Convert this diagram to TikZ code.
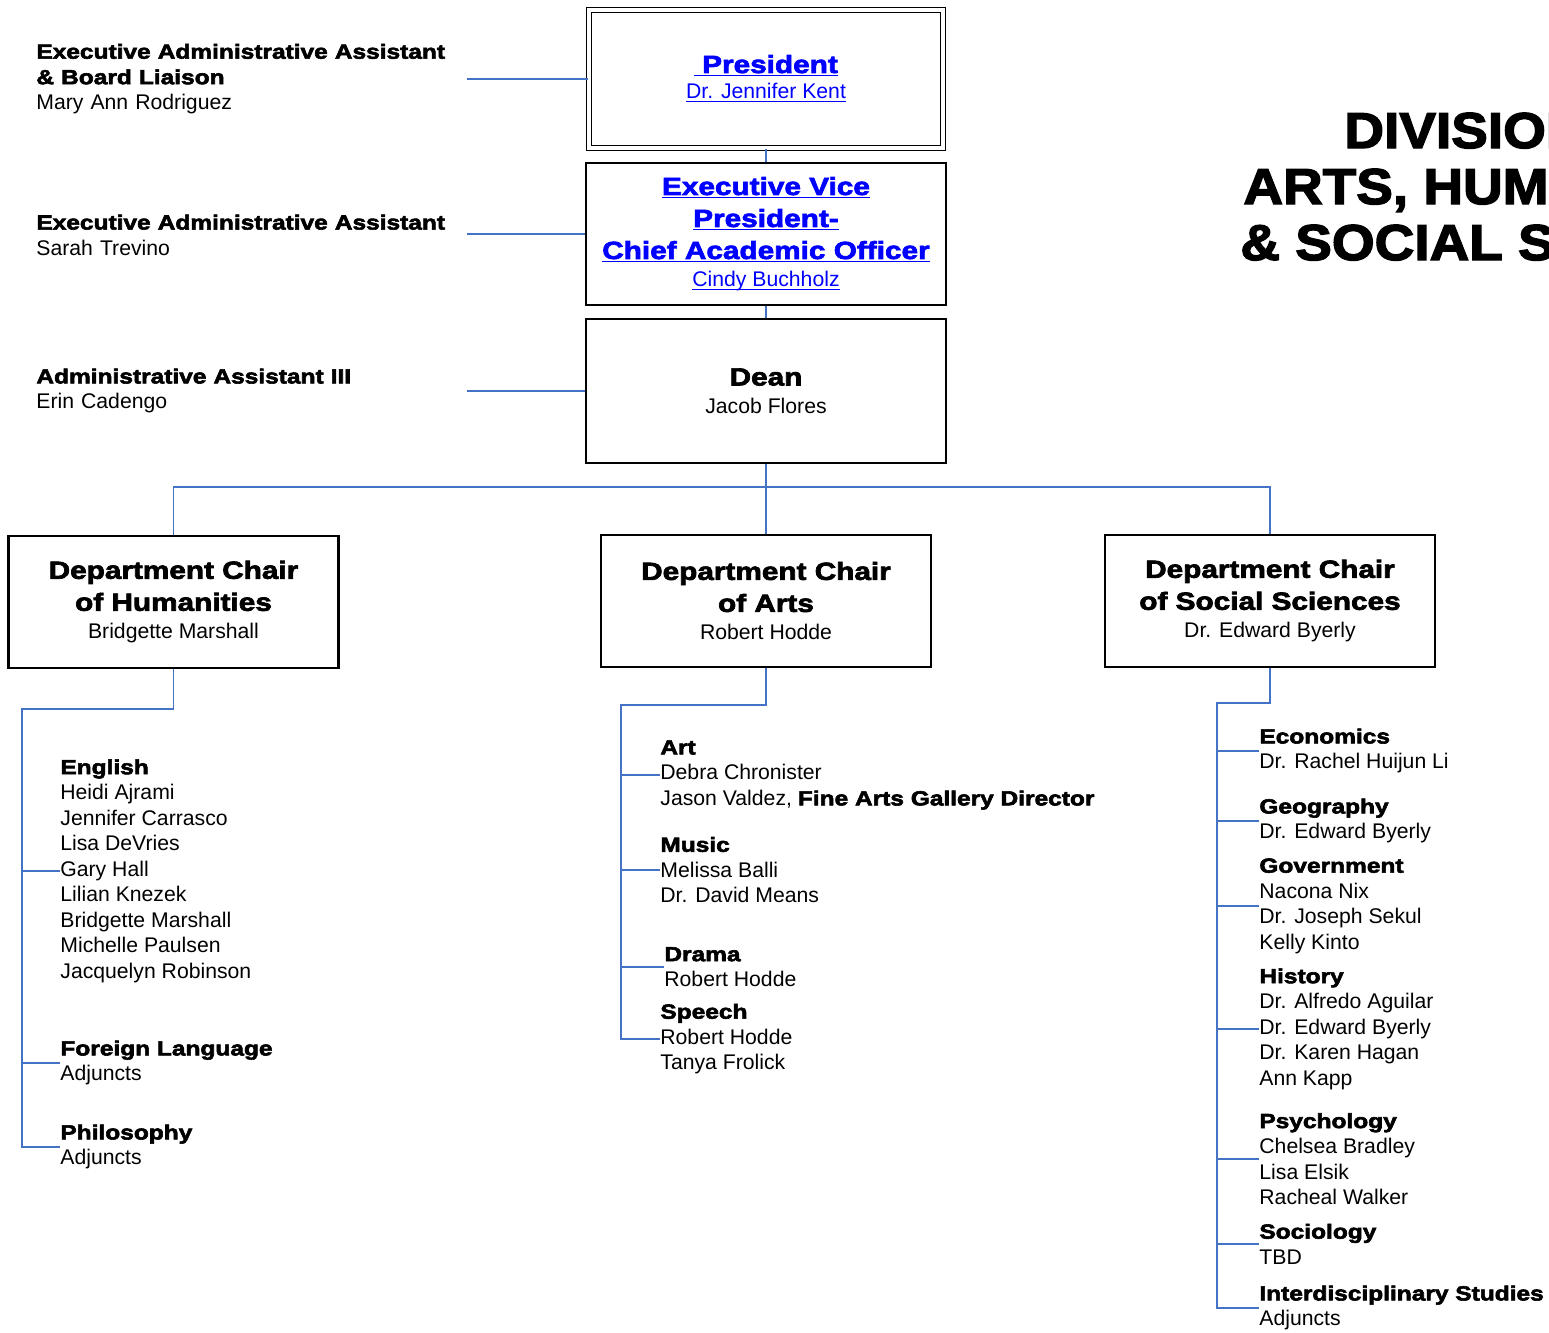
\documentclass[tikz,border=0pt]{standalone}
\usepackage{fontspec}
\setmainfont{Liberation Sans}
\newfontfamily\blk[FakeStretch=1.2,FakeBold=2.8]{Liberation Sans Bold}
\newfontfamily\blkt[FakeStretch=1.09,FakeBold=2.8]{Liberation Sans Bold}
\definecolor{linkblue}{RGB}{0,0,255}
\definecolor{lineblue}{RGB}{68,114,196}
\newcommand{\nm}{\normalfont\fontsize{10.6}{12.75}\selectfont}
\newcommand{\hdsm}{\blk\fontsize{10.2}{12.75}\selectfont}
\newcommand{\hdbig}{\blk\fontsize{12.4}{16}\selectfont}
\newcommand{\ttl}{\blkt\fontsize{25.2}{28}\selectfont}
\newcommand{\ulk}[1]{\setbox0=\hbox{#1}\dp0=0pt\underline{\box0}}
\begin{document}
\begin{tikzpicture}[x=0.5pt,y=-0.5pt,
	link/.style={draw=lineblue,line width=0.8pt},
	box/.style={draw,line width=1.1pt,inner sep=0pt,align=center,font=\hdbig,
		minimum width=180pt,minimum height=72pt},
	chairbox/.style={box,minimum width=165pt,minimum height=66pt},
	staff/.style={anchor=west,inner sep=0pt,align=left,text width=215pt,font=\nm},
	grp/.style={anchor=west,inner sep=0pt,align=left,font=\nm},
	title/.style={anchor=base west,inner sep=0pt,font=\ttl}]
	\useasboundingbox (0,0) rectangle (1549,1333);
	\clip (0,0) rectangle (1549,1333);
	% title, cut off at the right edge
	\node[title] (title1) at (1344,148) {DIVISION OF};
	\node[title] (title2) at (1243,204) {ARTS, HUMANITIES};
	\node[title] (title3) at (1240,260) {\& SOCIAL SCIENCES};
	% main column
	\node[box,double,double distance=1.6pt,line width=0.9pt,minimum width=177pt,
		minimum height=69pt,text=linkblue] (pres) at (766,79)
		{\ulk{\hspace{4pt}President}\\[-3pt]\ulk{\nm Dr. Jennifer Kent}};
	\node[box,minimum height=71pt,text=linkblue] (evp) at (766,234)
		{\ulk{Executive Vice}\\\ulk{President-}\\\ulk{Chief Academic Officer}\\[-2pt]\ulk{\nm Cindy Buchholz}};
	\node[box] (dean) at (766,391) {Dean\\[-2pt]{\nm Jacob Flores}};
	% assistants
	\node[staff] (asst1) at (36,79) {{\hdsm Executive Administrative Assistant}\\{\hdsm\& Board Liaison}\\Mary Ann Rodriguez};
	\node[staff] (asst2) at (36,235) {{\hdsm Executive Administrative Assistant}\\Sarah Trevino};
	\node[staff] (asst3) at (36,391) {{\hdsm Administrative Assistant III}\\Erin Cadengo};
	% department chairs
	\node[chairbox] (hum) at (173.5,602) {Department Chair\\of Humanities\\[-2pt]{\nm Bridgette Marshall}};
	\node[chairbox] (arts) at (766,601) {Department Chair\\of Arts\\[-2pt]{\nm Robert Hodde}};
	\node[chairbox] (soc) at (1270,601) {Department Chair\\of Social Sciences\\[-2pt]{\nm Dr. Edward Byerly}};
	% humanities
	\node[grp] (eng) at (60,871) {{\hdsm English}\\Heidi Ajrami\\Jennifer Carrasco\\Lisa DeVries\\Gary Hall\\Lilian Knezek\\Bridgette Marshall\\Michelle Paulsen\\Jacquelyn Robinson};
	\node[grp] (flang) at (60,1063) {{\hdsm Foreign Language}\\Adjuncts};
	\node[grp] (phil) at (60,1147) {{\hdsm Philosophy}\\Adjuncts};
	% arts
	\node[grp] (art) at (660,775) {{\hdsm Art}\\Debra Chronister\\Jason Valdez, {\hdsm Fine Arts Gallery Director}};
	\node[grp] (music) at (660,870) {{\hdsm Music}\\Melissa Balli\\Dr. David Means};
	\node[grp] (drama) at (664,967) {{\hdsm Drama}\\Robert Hodde};
	\node[grp] (speech) at (660,1039) {{\hdsm Speech}\\Robert Hodde\\Tanya Frolick};
	% social sciences
	\node[grp] (econ) at (1259,751) {{\hdsm Economics}\\Dr. Rachel Huijun Li};
	\node[grp] (geog) at (1259,821) {{\hdsm Geography}\\Dr. Edward Byerly};
	\node[grp] (govt) at (1259,906) {{\hdsm Government}\\Nacona Nix\\Dr. Joseph Sekul\\Kelly Kinto};
	\node[grp] (hist) at (1259,1029) {{\hdsm History}\\Dr. Alfredo Aguilar\\Dr. Edward Byerly\\Dr. Karen Hagan\\Ann Kapp};
	\node[grp] (psych) at (1259,1159) {{\hdsm Psychology}\\Chelsea Bradley\\Lisa Elsik\\Racheal Walker};
	\node[grp] (socio) at (1259,1244) {{\hdsm Sociology}\\TBD};
	\node[grp] (inter) at (1259,1308) {{\hdsm Interdisciplinary Studies}\\Adjuncts};
	% connectors
	\draw[link] (pres.south) -- (evp.north);
	\draw[link] (evp.south) -- (dean.north);
	\foreach \a/\b in {asst1/pres,asst2/evp,asst3/dean}
		\draw[link] (\b.west) -- (\b.west -| \a.east);
	\coordinate (bus) at (766,487);
	\draw[link] (dean.south) -- (arts.north);
	\draw[link] (hum.north) |- (bus) -| (soc.north);
	\coordinate (humtr) at (22,709);
	\draw[link] (hum.south) |- (humtr) |- (phil.west);
	\foreach \g in {eng,flang}
		\draw[link] (humtr |- \g.west) -- (\g.west);
	\coordinate (artstr) at (621,705);
	\draw[link] (arts.south) |- (artstr) |- (speech.west);
	\foreach \g in {art,music,drama}
		\draw[link] (artstr |- \g.west) -- (\g.west);
	\coordinate (soctr) at (1217,703);
	\draw[link] (soc.south) |- (soctr) |- (inter.west);
	\foreach \g in {econ,geog,govt,hist,psych,socio}
		\draw[link] (soctr |- \g.west) -- (\g.west);
\end{tikzpicture}
\end{document}
